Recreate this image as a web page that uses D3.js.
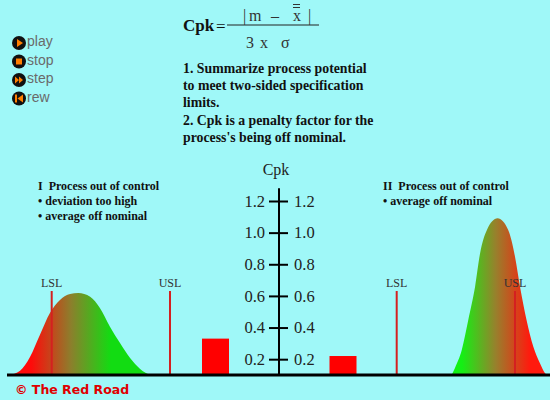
<!DOCTYPE html>
<html>
<head>
<meta charset="utf-8">
<script src="https://cdn.jsdelivr.net/npm/d3@7"></script>
<style>
	body { margin: 0; background: #9ff8f8; }
	svg { display: block; }
</style>
</head>
<body>
<div id="chart"></div>
<script>
// chart values
var panels = ["I", "II"];
var cpkValues = [0.33, 0.22];
var cpkTicks = [0.2, 0.4, 0.6, 0.8, 1.0, 1.2];
var specLimits = [3, 7];
var specLabels = ["LSL", "USL"];
var curveI = [[1.55, 0], [1.93, 0.027], [2.27, 0.114], [2.60, 0.25], [2.94, 0.388], [3.28, 0.469],
	[3.62, 0.506], [3.90, 0.512], [4.30, 0.489], [4.63, 0.419], [4.97, 0.302], [5.31, 0.2],
	[5.65, 0.106], [5.99, 0.038], [6.32, 0]];
var curveII = [[4.86, 0], [4.97, 0.044], [5.20, 0.156], [5.42, 0.344], [5.65, 0.552], [5.82, 0.761],
	[6.05, 0.906], [6.41, 0.979], [6.77, 0.906], [7.00, 0.739], [7.17, 0.552], [7.39, 0.344],
	[7.62, 0.177], [7.84, 0.075], [8.01, 0.0125], [8.08, 0]];
var panelNotes = [
	["I  Process out of control", "\u2022 deviation too high", "\u2022 average off nominal"],
	["II  Process out of control", "\u2022 average off nominal"]
];
var summaryLines = ["1. Summarize process potential", "to meet two-sided specification", "limits.",
	"2. Cpk is a penalty factor for the", "process's being off nominal."];
var controls = ["play", "stop", "step", "rew"];

(function() {
	"use strict";

	var chartWidth = 550,
		chartHeight = 400,
		baseY = 375,
		axisX = 279,
		serif = "Liberation Serif, Times New Roman, serif",
		y = d3.scaleLinear().domain([0.1, 1.2]).range([baseY, 201]),
		barX = d3.scalePoint().domain(panels).range([215.5, 343]),
		barWidth = 27,
		density = d3.scaleLinear().domain([0, 1]).range([baseY, 215]),
		xI = d3.scaleLinear().domain(specLimits).range([51.7, 170]),
		xII = d3.scaleLinear().domain(specLimits).range([396.7, 515]);

	var svg = d3.select("#chart").append("svg")
		.attr("width", chartWidth)
		.attr("height", chartHeight);

	svg.append("rect")
		.attr("width", chartWidth)
		.attr("height", chartHeight)
		.attr("fill", "#9ff8f8");

	var defs = svg.append("defs");

	function gradient(id, x1, x2, colors) {
		var g = defs.append("linearGradient")
			.attr("id", id)
			.attr("gradientUnits", "userSpaceOnUse")
			.attr("x1", x1).attr("x2", x2)
			.attr("y1", 0).attr("y2", 0);
		g.selectAll("stop")
			.data(colors)
			.enter().append("stop")
			.attr("offset", function(d, i) { return i / (colors.length - 1); })
			.attr("stop-color", function(d) { return d; });
	}
	gradient("gradI", xI(2.3), xI(5.0), ["#ff0a0a", "#8c7f2c", "#12dc12"]);
	gradient("gradII", xII(5.2), xII(7.5), ["#14f014", "#98802c", "#ff1a0e"]);

	// controls
	var ctrl = svg.append("g").selectAll("g")
		.data(controls)
		.enter().append("g")
		.attr("transform", function(d, i) { return "translate(19," + (43 + i * 18.5) + ")"; });
	ctrl.append("circle").attr("r", 7).attr("fill", "#111");
	ctrl.append("path")
		.attr("fill", "#ff7f00")
		.attr("d", function(d) {
			if (d === "play") return "M-2,-4L4,0L-2,4Z";
			if (d === "stop") return "M-3,-3H3V3H-3Z";
			if (d === "step") return "M-4,-3.5L0,0L-4,3.5ZM0,-3.5L4,0L0,3.5Z";
			return "M-4,-4H-2V4H-4ZM4,-4L-1.5,0L4,4Z";
		});
	ctrl.append("text")
		.attr("x", 8)
		.attr("y", 3)
		.attr("fill", "#6a6a6a")
		.style("font-family", "Liberation Sans, Arial, sans-serif")
		.style("font-size", "14px")
		.text(function(d) { return d; });

	// formula
	var f = svg.append("g").style("font-family", serif);
	f.append("text").attr("x", 183).attr("y", 31)
		.style("font-size", "17px").style("font-weight", "bold").attr("fill", "#111").text("Cpk");
	f.append("text").attr("x", 216).attr("y", 32)
		.style("font-size", "17px").attr("fill", "#111").text("=");
	f.append("line").attr("x1", 227).attr("x2", 319).attr("y1", 25).attr("y2", 25)
		.attr("stroke", "#222").attr("stroke-width", 1.2);
	var num = f.append("text").attr("y", 21).style("font-size", "16px").attr("fill", "#333");
	num.append("tspan").attr("x", 243).text("|");
	num.append("tspan").attr("x", 249).text("m");
	num.append("tspan").attr("x", 271).text("\u2013");
	num.append("tspan").attr("x", 293).text("x");
	num.append("tspan").attr("x", 308).text("|");
	f.append("path").attr("d", "M293,4.5H300M293,7.5H300").attr("stroke", "#333").attr("stroke-width", 1);
	var den = f.append("text").attr("y", 48).style("font-size", "16px").attr("fill", "#333");
	den.append("tspan").attr("x", 246).text("3");
	den.append("tspan").attr("x", 260).text("x");
	den.append("tspan").attr("x", 281).text("\u03c3");

	svg.append("g").selectAll("text")
		.data(summaryLines)
		.enter().append("text")
		.attr("x", 183)
		.attr("y", function(d, i) { return 73 + i * 17.2; })
		.attr("fill", "#111")
		.style("font-family", serif)
		.style("font-size", "13.8px")
		.style("font-weight", "bold")
		.text(function(d) { return d; });

	// panel notes
	[38, 383].forEach(function(px, p) {
		svg.append("g").selectAll("text")
			.data(panelNotes[p])
			.enter().append("text")
			.attr("x", px)
			.attr("y", function(d, i) { return 190 + i * 15; })
			.attr("fill", "#111")
			.style("font-family", serif)
			.style("font-size", "12px")
			.style("font-weight", "bold")
			.style("white-space", "pre")
			.text(function(d) { return d; });
	});

	// bell curves
	function curve(data, x, fill) {
		var area = d3.area()
			.x(function(d) { return x(d[0]); })
			.y0(density(0))
			.y1(function(d) { return density(d[1]); })
			.curve(d3.curveMonotoneX);
		svg.append("path").datum(data).attr("d", area).attr("fill", fill);
	}
	curve(curveI, xI, "url(#gradI)");
	curve(curveII, xII, "url(#gradII)");

	// spec limits
	[xI, xII].forEach(function(x) {
		var g = svg.append("g");
		g.selectAll("line")
			.data(specLimits)
			.enter().append("line")
			.attr("x1", x).attr("x2", x)
			.attr("y1", density(0.525))
			.attr("y2", baseY)
			.attr("stroke", "#d42020")
			.attr("stroke-width", 2);
		g.selectAll("text")
			.data(specLimits)
			.enter().append("text")
			.attr("x", x)
			.attr("y", 286.5)
			.attr("text-anchor", "middle")
			.attr("fill", "#333")
			.style("font-family", serif)
			.style("font-size", "12px")
			.text(function(d, i) { return specLabels[i]; });
	});

	// Cpk bars
	svg.append("g").selectAll("rect")
		.data(cpkValues)
		.enter().append("rect")
		.attr("x", function(d, i) { return barX(panels[i]) - barWidth / 2; })
		.attr("width", barWidth)
		.attr("y", function(d) { return y(d); })
		.attr("height", function(d) { return baseY - y(d); })
		.attr("fill", "#ff0000");

	// axis
	var fmt = d3.format(".1f");
	var left = svg.append("g")
		.attr("transform", "translate(" + axisX + ",0)")
		.call(d3.axisLeft(y).tickValues(cpkTicks).tickFormat(fmt).tickSize(10).tickPadding(4));
	var right = svg.append("g")
		.attr("transform", "translate(" + axisX + ",0)")
		.call(d3.axisRight(y).tickValues(cpkTicks).tickFormat(fmt).tickSize(9).tickPadding(6));
	[left, right].forEach(function(a) {
		a.select(".domain").remove();
		a.selectAll("line").attr("stroke", "#000").attr("stroke-width", 2);
		a.selectAll("text")
			.attr("fill", "#222")
			.style("font-family", serif)
			.style("font-size", "16.5px");
	});
	svg.append("line")
		.attr("x1", axisX).attr("x2", axisX)
		.attr("y1", y(1.28)).attr("y2", baseY)
		.attr("stroke", "#000").attr("stroke-width", 2);
	svg.append("text")
		.attr("x", axisX - 3).attr("y", 175)
		.attr("text-anchor", "middle")
		.attr("fill", "#222")
		.style("font-family", serif)
		.style("font-size", "16px")
		.text("Cpk");

	svg.append("line")
		.attr("x1", 7).attr("x2", chartWidth)
		.attr("y1", baseY).attr("y2", baseY)
		.attr("stroke", "#000").attr("stroke-width", 3);

	svg.append("text")
		.attr("x", 15).attr("y", 394)
		.attr("fill", "#e00000")
		.style("font-family", "DejaVu Sans, sans-serif")
		.style("font-size", "12.5px")
		.style("font-weight", "bold")
		.text("\u00a9 The Red Road");
})();
</script>
</body>
</html>
